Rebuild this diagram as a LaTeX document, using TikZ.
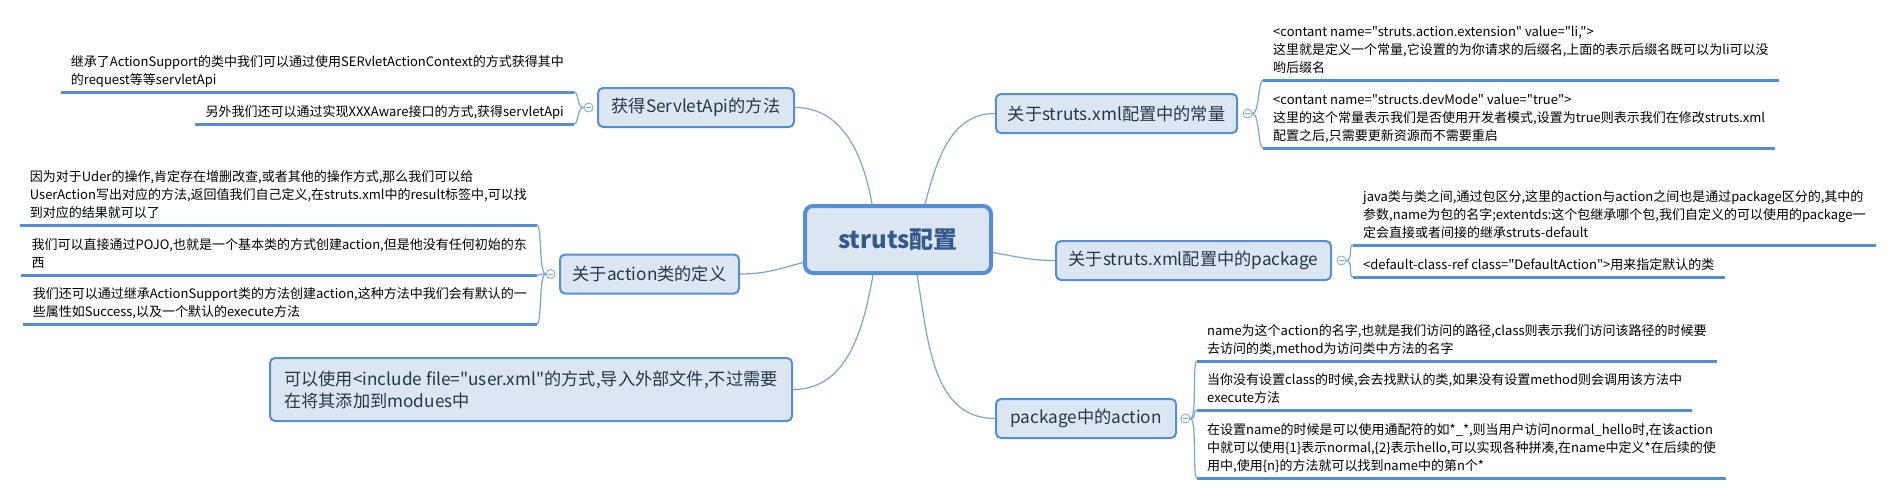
\documentclass[tikz,border=0pt]{standalone}
\usepackage{fontspec}
\setmainfont{Noto Sans CJK SC}[Ligatures=TeXOff]
\usepackage{tikz}
\usetikzlibrary{positioning}
\definecolor{mapfill}{HTML}{DCE6F2}
\definecolor{mapline}{HTML}{558ED5}
\definecolor{maplink}{HTML}{7BA3D8}
\definecolor{maptext}{HTML}{26364A}
\definecolor{roottext}{HTML}{34598C}
\tikzset{basic/.style={draw=mapline,fill=mapfill,text=maptext,rounded corners=5pt}}
\tikzset{topic/.style={basic,line width=2pt,font=\fontsize{17.2}{22}\selectfont,
                       inner xsep=12pt,minimum height=39pt}}
\tikzset{leaf/.style={inner xsep=10pt,inner ysep=1.6pt,align=left,text=black,
                      font=\fontsize{13}{18}\selectfont,execute at end node=\strut}}
\def\bendout{7pt}
\def\bendin{5pt}

\begin{document}
\begin{tikzpicture}[x=1pt,y=-1pt,node distance=3.5pt]
    \tikzstyle{branch}=[draw=maplink,line width=1.2pt]
    \tikzstyle{leafline}=[draw=mapline,line width=3pt]
    \tikzstyle{fold}=[circle,draw=maplink,fill=white,line width=0.8pt,minimum size=9pt,inner sep=0pt,
        path picture={\draw[maplink,line width=0.8pt] (path picture bounding box.center) +(-2.5,0) -- +(2.5,0);}]

    \useasboundingbox[fill=white] (0,0) rectangle (1894,495);

    \node[basic,line width=4pt,rounded corners=8pt,minimum width=186pt,minimum height=67pt,
          text=roottext,font=\fontsize{24}{28}\selectfont\bfseries] (root) at (898,239.5) {struts配置};

    % topics
    \node[topic,minimum width=196pt] (servlet) at (696,107.5) {获得ServletApi的方法};
    \node[topic,minimum width=179pt] (actdef) at (649.5,274) {关于action类的定义};
    \node[topic,minimum width=241pt] (const) at (1116.5,113.5) {关于struts.xml配置中的常量};
    \node[topic,minimum width=275pt] (pkg) at (1193.5,260.5) {关于struts.xml配置中的package};
    \node[topic,minimum width=180pt] (pkgact) at (1086,418.5) {package中的action};
    \node[topic,minimum width=522pt,minimum height=63pt,align=left] (incl) at (531,389.5)
        {可以使用<include file="user.xml"的方式,导入外部文件,不过需要\\在将其添加到modues中};

    \node[fold,left=of servlet] (f1) {};
    \node[fold,left=of actdef] (f2) {};
    \node[fold,right=4.5pt of const] (f3) {};
    \node[fold,right=4.5pt of pkg] (f4) {};
    \node[fold,right=of pkgact] (f5) {};

    \draw[branch] ([xshift=-26pt]root.north) to[out=100,in=0] (servlet);
    \draw[branch] ([xshift=27pt]root.north) to[out=75,in=180] (const);
    \draw[branch] ([yshift=-23pt]root.west) to[out=195,in=0] (actdef);
    \draw[branch] ([yshift=-13pt]root.east) to[out=-10,in=180] (pkg);
    \draw[branch] ([xshift=-25pt]root.south) to[out=-100,in=0] (incl);
    \draw[branch] ([xshift=19pt]root.south) to[out=-80,in=180] (pkgact);

    % leaves, left side
    \node[leaf,anchor=south east] (api1) at (574,92)
        {继承了ActionSupport的类中我们可以通过使用SERvletActionContext的方式获得其中\\的request等等servletApi};
    \node[leaf,anchor=south east] (api2) at (574,124)
        {另外我们还可以通过实现XXXAware接口的方式,获得servletApi};
    \node[leaf,anchor=south east] (def1) at (537,225)
        {因为对于Uder的操作,肯定存在增删改查,或者其他的操作方式,那么我们可以给\\UserAction写出对应的方法,返回值我们自己定义,在struts.xml中的result标签中,可以找\\到对应的结果就可以了};
    \node[leaf,anchor=south east] (def2) at (537,275)
        {我们可以直接通过POJO,也就是一个基本类的方式创建action,但是他没有任何初始的东\\西};
    \node[leaf,anchor=south east] (def3) at (537,324)
        {我们还可以通过继承ActionSupport类的方法创建action,这种方法中我们会有默认的一\\些属性如Success,以及一个默认的execute方法};

    % leaves, right side
    \node[leaf,anchor=south west] (con1) at (1263,80)
        {<contant name="struts.action.extension" value="li,">\\这里就是定义一个常量,它设置的为你请求的后缀名,上面的表示后缀名既可以为li可以没\\哟后缀名};
    \node[leaf,anchor=south west] (con2) at (1263,148)
        {<contant name="structs.devMode" value="true">\\这里的这个常量表示我们是否使用开发者模式,设置为true则表示我们在修改struts.xml\\配置之后,只需要更新资源而不需要重启};
    \node[leaf,anchor=south west] (pkg1) at (1353,245)
        {java类与类之间,通过包区分,这里的action与action之间也是通过package区分的,其中的\\参数,name为包的名字;extentds:这个包继承哪个包,我们自定义的可以使用的package一\\定会直接或者间接的继承struts-default};
    \node[leaf,anchor=south west] (pkg2) at (1353,277)
        {<default-class-ref class="DefaultAction">用来指定默认的类};
    \node[leaf,anchor=south west] (act1) at (1197,361)
        {name为这个action的名字,也就是我们访问的路径,class则表示我们访问该路径的时候要\\去访问的类,method为访问类中方法的名字};
    \node[leaf,anchor=south west] (act2) at (1197,410)
        {当你没有设置class的时候,会去找默认的类,如果没有设置method则会调用该方法中\\execute方法};
    \node[leaf,anchor=south west] (act3) at (1197,478)
        {在设置name的时候是可以使用通配符的如*\_*,则当用户访问normal\_hello时,在该action\\中就可以使用\{1\}表示normal,\{2\}表示hello,可以实现各种拼凑,在name中定义*在后续的使\\用中,使用\{n\}的方法就可以找到name中的第n个*};

    \foreach \l in {api1,api2,def1,def2,def3,con1,con2,pkg1,pkg2,act1,act2,act3}
        \draw[leafline] (\l.south west) -- (\l.south east);

    \foreach \l in {api1,api2}
        \draw[branch] (f1) to[out=180,in=0,out distance=\bendout,in distance=\bendin] (\l.south east);
    \foreach \l in {def1,def2,def3}
        \draw[branch] (f2) to[out=180,in=0,out distance=\bendout,in distance=\bendin] (\l.south east);
    \foreach \l in {con1,con2}
        \draw[branch] (f3) to[out=0,in=180,out distance=\bendout,in distance=\bendin] (\l.south west);
    \foreach \l in {pkg1,pkg2}
        \draw[branch] (f4) to[out=0,in=180,out distance=\bendout,in distance=\bendin] (\l.south west);
    \foreach \l in {act1,act2,act3}
        \draw[branch] (f5) to[out=0,in=180,out distance=\bendout,in distance=\bendin] (\l.south west);
\end{tikzpicture}
\end{document}
